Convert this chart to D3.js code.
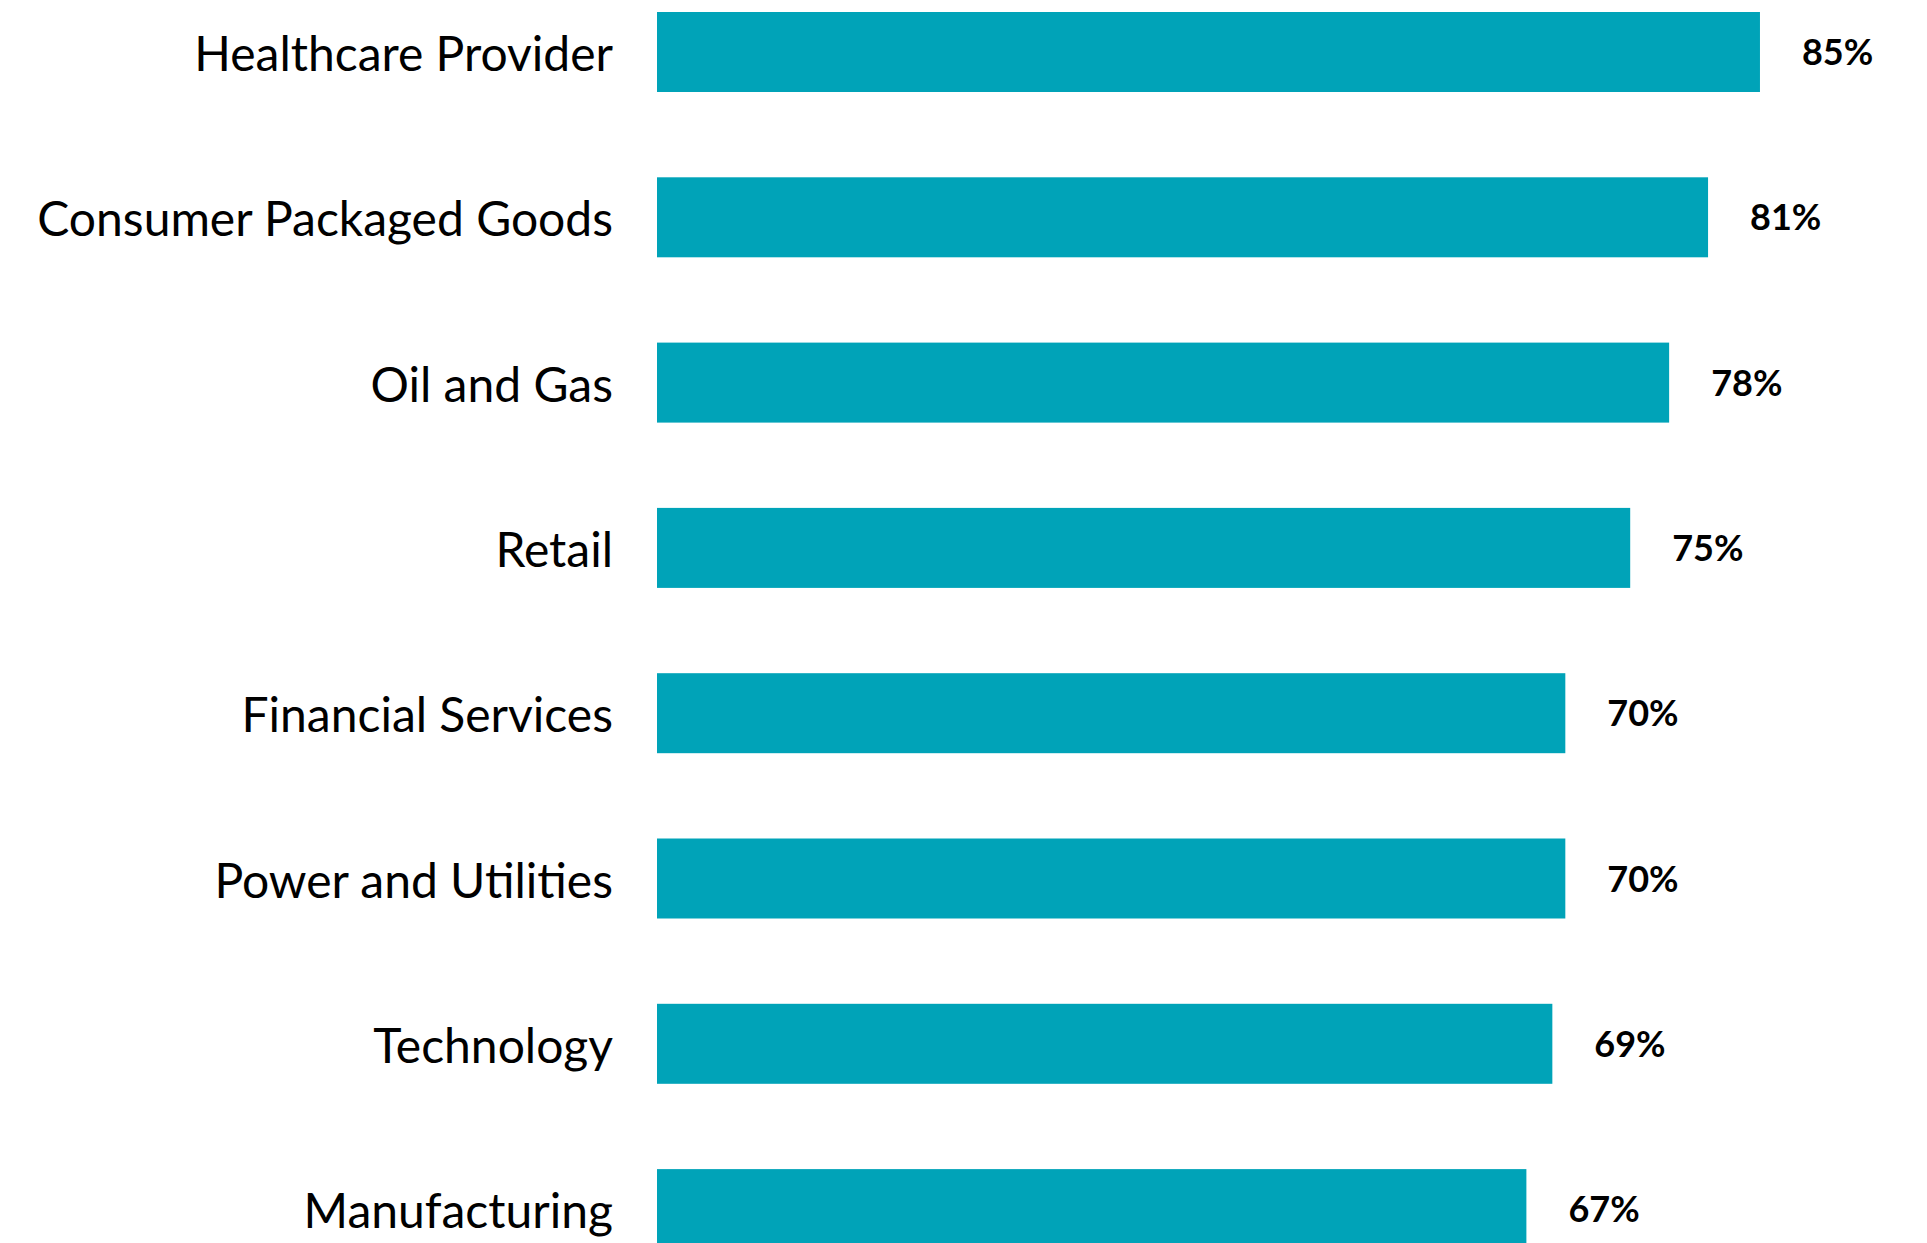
<!DOCTYPE html>
<html><head><meta charset="utf-8">
<script src="https://cdn.jsdelivr.net/npm/d3@7"></script>
<style>html,body{margin:0;padding:0;background:#fff;overflow:hidden}</style>
</head><body>
<svg id="c" width="1927" height="1243"></svg>
<script>
const categories = ["Healthcare Provider","Consumer Packaged Goods","Oil and Gas","Retail","Financial Services","Power and Utilities","Technology","Manufacturing"];
const values = [85,81,78,75,70,70,69,67];
const valueLabels = ["85%","81%","78%","75%","70%","70%","69%","67%"];

const svg = d3.select("#c");
const x0 = 657, pxPerUnit = 12.976;
const x = d3.scaleLinear().domain([0,100]).range([x0, x0 + 100*pxPerUnit]);
const step = 165.3, bw = 80;
const y = d3.scaleBand().domain(categories)
  .range([12, 12 + 7*step + bw]).paddingInner(1 - bw/step).paddingOuter(0);

const data = categories.map((c,i)=>({c, v:values[i], l:valueLabels[i]}));

svg.selectAll("rect.bar").data(data).join("rect")
  .attr("class","bar")
  .attr("x", x(0))
  .attr("y", d=>y(d.c))
  .attr("width", d=>x(d.v)-x(0))
  .attr("height", y.bandwidth())
  .attr("fill","#00A3B8");

svg.selectAll("text.cat").data(data).join("text")
  .attr("class","cat")
  .attr("x", 613)
  .attr("y", d=>y(d.c)+y.bandwidth()/2+19)
  .attr("text-anchor","end")
  .attr("font-family","Lato, sans-serif")
  .attr("font-size",48)
  .attr("fill","#000")
  .text(d=>d.c);

svg.selectAll("text.val").data(data).join("text")
  .attr("class","val")
  .attr("x", d=>x(d.v)+42)
  .attr("y", d=>y(d.c)+y.bandwidth()/2+13)
  .attr("font-family","Lato, sans-serif")
  .attr("font-weight","bold")
  .attr("font-size",36)
  .attr("fill","#000")
  .text(d=>d.l);
</script>
</body></html>
